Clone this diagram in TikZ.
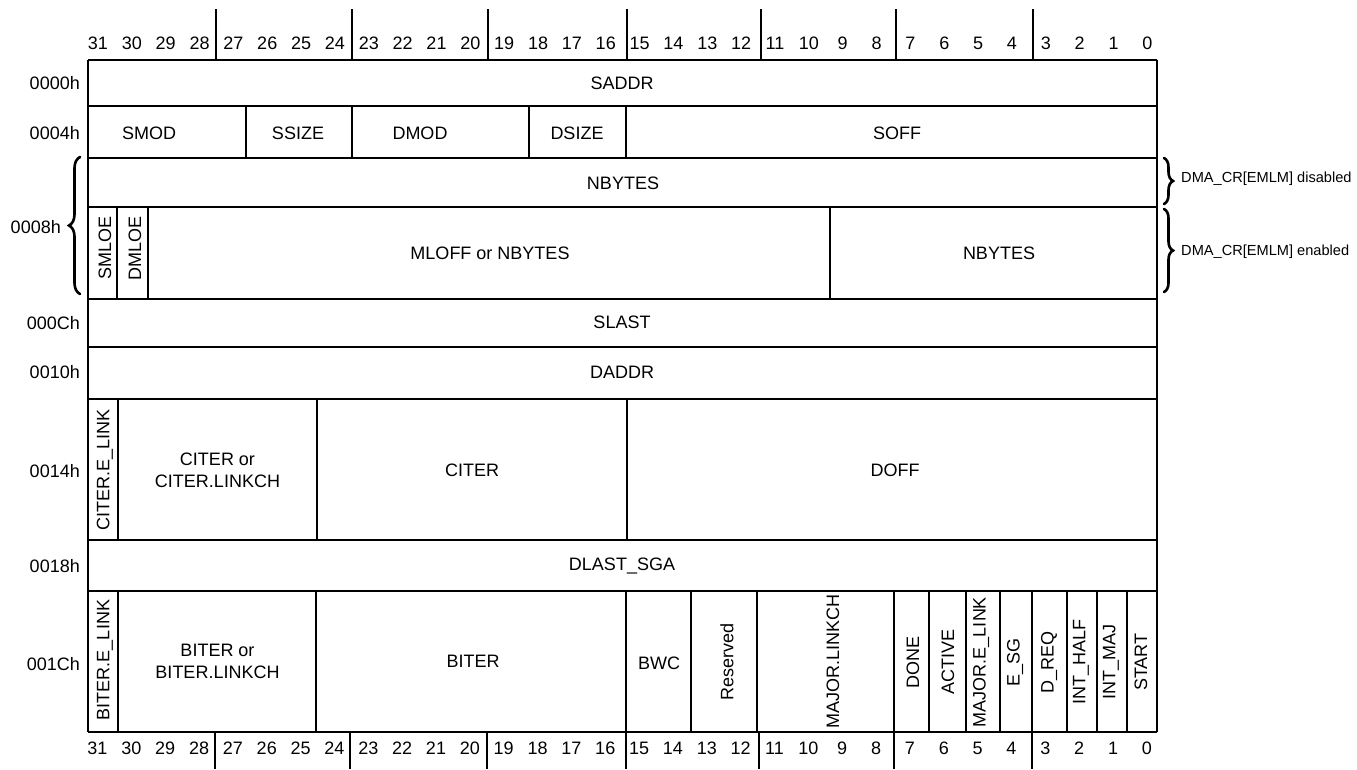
\documentclass[tikz,border=0pt]{standalone}
\usepackage{fontspec}
\setmainfont{Liberation Sans}
\usetikzlibrary{decorations.pathreplacing}
\begin{document}
\begin{tikzpicture}[x=1pt,y=-1pt,
  lbl/.style={font=\fontsize{18}{22}\selectfont, inner sep=0pt, align=center},
  vlbl/.style={lbl, rotate=90},
  addr/.style={lbl, anchor=east},
  note/.style={font=\fontsize{14.6}{17}\selectfont, inner sep=0pt, anchor=west},
  rowline/.style={line width=1.6pt},
  subline/.style={line width=1.2pt},
  edgeline/.style={line width=1.4pt},
  fieldline/.style={line width=1.1pt},
  tickline/.style={line width=1.1pt},
  bigbrace/.style={decorate, decoration={brace, amplitude=#1}, line width=2.6pt, line cap=round},
]
\fill[white] (0,0) rectangle (1357,769);
\useasboundingbox (0,0) rectangle (1357,769);

% bit numbers
\foreach \i in {0,...,31} {
  \node[lbl] (top\i) at ({98+33.85*(31-\i)},43) {\i};
  \node[lbl] (bot\i) at ({97.5+33.85*(31-\i)},748) {\i};
}
% nibble ticks
\foreach \x in {216,352,488,627,761,896,1033} \draw[tickline] (\x,9) -- (\x,60);
\foreach \x in {215,350,487,626,759,894,1032} \draw[tickline] (\x,732) -- (\x,769);

% row lines
\foreach \y in {60,106,158,299,347,399,540,591,732} \draw[rowline] (88,\y) -- (1157,\y);
\draw[subline] (88,207) -- (1157,207);
\draw[edgeline] (88,60) -- (88,732);
\draw[edgeline] (1157,60) -- (1157,732);

% field lines
\foreach \x in {246,352,529,626} \draw[fieldline] (\x,106) -- (\x,158);
\foreach \x in {117,148,830} \draw[fieldline] (\x,207) -- (\x,299);
\foreach \x in {118,317,627} \draw[fieldline] (\x,399) -- (\x,540);
\foreach \x in {118,316,626,691,757,894,929,966,1000,1032,1067,1097,1127} \draw[fieldline] (\x,591) -- (\x,732);

% braces
\draw[bigbrace=11pt] (80,294) -- (80,157);
\draw[bigbrace=9pt] (1164,158) -- (1164,204);
\draw[bigbrace=9pt] (1164,209) -- (1164,292);
\node[note] (dis) at (1181,179) {DMA\_CR[EMLM] disabled};
\node[note] (ena) at (1181,252) {DMA\_CR[EMLM] enabled};

% addresses
\node[addr] (a00) at (80,83) {0000h};
\node[addr] (a04) at (80,133) {0004h};
\node[addr] (a08) at (61,227) {0008h};
\node[addr] (a0C) at (80,323) {000Ch};
\node[addr] (a10) at (80,372) {0010h};
\node[addr] (a14) at (80,471) {0014h};
\node[addr] (a18) at (80,566) {0018h};
\node[addr] (a1C) at (80,664) {001Ch};

% row 0000h
\node[lbl] (saddr) at (622,83) {SADDR};
% row 0004h
\node[lbl] (smod) at (149,133) {SMOD};
\node[lbl] (ssize) at (298,133) {SSIZE};
\node[lbl] (dmod) at (420,133) {DMOD};
\node[lbl] (dsize) at (577,133) {DSIZE};
\node[lbl] (soff) at (897,133) {SOFF};
% row 0008h
\node[lbl] (nbytesA) at (623,183) {NBYTES};
\node[vlbl] (smloe) at (105,248) {SMLOE};
\node[vlbl] (dmloe) at (135,248) {DMLOE};
\node[lbl] (mloff) at (490,253) {MLOFF or NBYTES};
\node[lbl] (nbytesB) at (999,253) {NBYTES};
% row 000Ch, 0010h
\node[lbl] (slast) at (622,322) {SLAST};
\node[lbl] (daddr) at (622,372) {DADDR};
% row 0014h
\node[vlbl] (celink) at (105,470) {CITER.E\_LINK};
\node[lbl] (clinkch) at (217.5,470.5) {CITER or\\CITER.LINKCH};
\node[lbl] (citer) at (472,470) {CITER};
\node[lbl] (doff) at (895,470) {DOFF};
% row 0018h
\node[lbl] (dlast) at (622,566) {DLAST\_SGA};
% row 001Ch
\node[vlbl] (belink) at (105,660) {BITER.E\_LINK};
\node[lbl] (blinkch) at (217.5,661) {BITER or\\BITER.LINKCH};
\node[lbl] (biter) at (473,661) {BITER};
\node[lbl] (bwc) at (659,663) {BWC};
\node[vlbl] (resv) at (727,662) {Reserved};
\node[vlbl] (mlinkch) at (833,661) {MAJOR.LINKCH};
\node[vlbl] (done) at (913,662) {DONE};
\node[vlbl] (active) at (948,662) {ACTIVE};
\node[vlbl] (melink) at (981,662) {MAJOR.E\_LINK};
\node[vlbl] (esg) at (1015,662) {E\_SG};
\node[vlbl] (dreq) at (1049,662) {D\_REQ};
\node[vlbl] (inthalf) at (1081,662) {INT\_HALF};
\node[vlbl] (intmaj) at (1111,662) {INT\_MAJ};
\node[vlbl] (start) at (1141,662) {START};
\end{tikzpicture}
\end{document}
